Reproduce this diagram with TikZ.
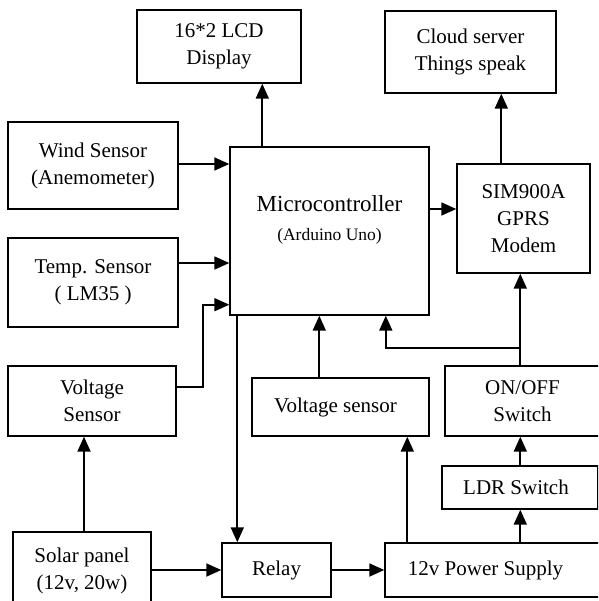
\documentclass[tikz,border=0pt]{standalone}
\usepackage{fontspec}
\setmainfont{Liberation Serif}
\usetikzlibrary{arrows.meta}
\tikzset{
  box/.style={draw, line width=1.4pt, inner sep=0pt, align=center,
    font=\fontsize{21}{27}\selectfont},
  arr/.style={line width=1.8pt, -{Triangle[length=15pt,width=13pt]}},
  ln/.style={line width=1.8pt}
}
\begin{document}
\begin{tikzpicture}[x=1pt,y=-1pt]
\useasboundingbox (0,0) rectangle (598,601);
\clip (0,0) rectangle (598,601);
% boxes
\node[box, minimum width=164, minimum height=73] (lcd) at (219,46.5) {16*2 LCD\\Display};
\node[box, minimum width=171, minimum height=82] (cloud) at (470.5,52) {Cloud server\\Things speak};
\node[box, minimum width=170, minimum height=87] (wind) at (93,165.5) {Wind Sensor\\(Anemometer)};
\node[box, minimum width=170, minimum height=89] (temp) at (93,282.5) {Temp. Sensor\\( LM35 )};
\node[box, minimum width=199, minimum height=168,
  label={[align=center, yshift=11pt, font=\fontsize{23}{29}\selectfont]center:Microcontroller\\{\fontsize{17.5}{20}\selectfont (Arduino Uno)}}] (mc) at (329.5,231) {};
\node[box, minimum width=133, minimum height=109] (sim) at (523.5,218.5) {SIM900A\\GPRS\\Modem};
\node[box, minimum width=168, minimum height=70] (vsl) at (92,401) {Voltage\\Sensor};
\node[box, minimum width=177, minimum height=58] (vsm) at (340.5,407) {Voltage sensor\hspace*{10pt}};
\node[box, minimum width=162, minimum height=70] (onoff) at (526,401) {ON/OFF\hspace*{7pt}\\Switch\hspace*{7pt}};
\node[box, minimum width=156, minimum height=43] (ldr) at (520,487.5) {\hspace*{-4pt}LDR Switch\hspace*{4pt}};
\node[box, minimum width=138, minimum height=78] (solar) at (82,571) {Solar panel\\(12v, 20w)};
\node[box, minimum width=109, minimum height=54] (relay) at (276.5,570) {Relay};
\node[box, minimum width=225, minimum height=54] (ps) at (497.5,570) {12v Power Supply\hspace*{24pt}};
% connectors
\draw[arr] ([xshift=33pt]mc.north west) -- ([xshift=33pt]mc.north west |- lcd.south);
\draw[arr] ([yshift=1.5pt]wind.east) -- ([yshift=1.5pt]wind.east -| mc.west);
\draw[arr] ([yshift=19.5pt]temp.east) -- ([yshift=19.5pt]temp.east -| mc.west);
\draw[arr] ([yshift=14pt]vsl.east) -- ++(26,0) |- ([yshift=11pt]mc.south west);
\draw[arr] ([yshift=9.5pt]sim.west -| mc.east) -- ([yshift=9.5pt]sim.west);
\draw[arr] ([xshift=45pt]sim.north west) -- ([xshift=45pt]sim.north west |- cloud.south);
\draw[arr] ([xshift=8pt]mc.south west) -- ([xshift=8pt]mc.south west |- relay.north);
\draw[arr] ([xshift=2pt]solar.north) -- ([xshift=2pt]solar.north |- vsl.south);
\draw[arr] (solar.east |- relay.west) -- (relay.west);
\draw[arr] (relay.east) -- (ps.west);
\draw[arr] ([xshift=23pt]ps.north west) -- ([xshift=23pt]ps.north west |- vsm.south);
\draw[arr] ([xshift=68pt]vsm.north west) -- ([xshift=68pt]vsm.north west |- mc.south);
\draw[arr] ([xshift=136pt]ps.north west) -- ([xshift=136pt]ps.north west |- ldr.south);
\draw[arr] ([xshift=136pt]ps.north west |- ldr.north) -- ([xshift=136pt]ps.north west |- onoff.south);
\draw[arr] ([xshift=136pt]ps.north west |- onoff.north) -- ([xshift=136pt]ps.north west |- sim.south);
\coordinate (jn) at ([xshift=136pt,yshift=17pt]ps.north west |- onoff.north);
\draw[arr] (jn) -| ([xshift=156.5pt]mc.south west);
\end{tikzpicture}
\end{document}
